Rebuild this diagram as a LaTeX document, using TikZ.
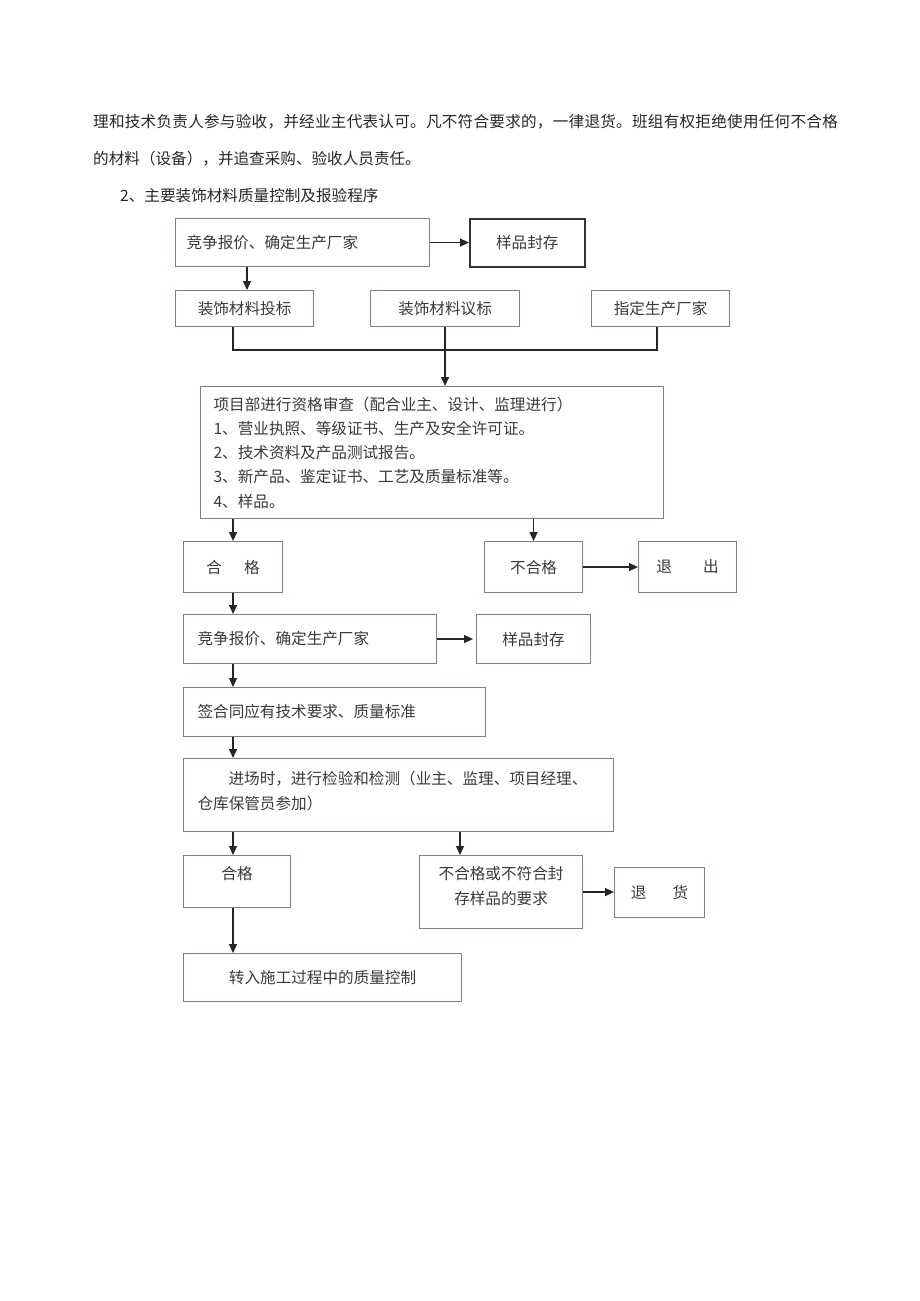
\documentclass[tikz,border=0pt]{standalone}
\usepackage{fontspec}
\newfontfamily\cjk{Noto Sans CJK SC}
\usetikzlibrary{arrows.meta,calc}
\definecolor{boxc}{HTML}{857A85}
\definecolor{txtc}{HTML}{3A3A3A}
\tikzset{
  box/.style={draw=boxc, line width=1.1pt, rectangle, inner ysep=0pt, inner xsep=0pt,
    font=\cjk\fontsize{15.6}{24.3}\selectfont, text=txtc, anchor=north west},
  lbox/.style={box, align=left},
  cbox/.style={box, align=center},
  arr/.style={-{Triangle[length=9pt,width=8pt]}, line width=1.3pt, draw=black!85},
  busline/.style={line width=1.3pt, draw=black!85},
  hdr/.style={anchor=west, inner sep=0pt, font=\cjk\fontsize{15.6}{20}\selectfont, text=black!85},
}
\begin{document}
\begin{tikzpicture}[x=1pt,y=-1pt]
\useasboundingbox[fill=white] (0,0) rectangle (920,1301);
% header text
\node[hdr] (h1) at (93,122) {\addfontfeature{LetterSpace=1.6}理和技术负责人参与验收，并经业主代表认可。凡不符合要求的，一律退货。班组有权拒绝使用任何不合格};
\node[hdr] (h2) at (93,159) {的材料（设备），并追查采购、验收人员责任。};
\node[hdr] (h3) at (120,196) {2、主要装饰材料质量控制及报验程序};
% boxes
\node[lbox, text width=232pt, inner xsep=11pt, minimum height=48pt] (b1) at (175,218) {竞争报价、确定生产厂家};
\node[cbox, draw=black!80, line width=1.6pt, minimum width=115pt, minimum height=48pt] (b2) at (469,218) {样品封存};
\node[cbox, minimum width=138pt, minimum height=36pt] (b3) at (175,290) {装饰材料投标};
\node[cbox, minimum width=149pt, minimum height=36pt] (b4) at (370,290) {装饰材料议标};
\node[cbox, minimum width=138pt, minimum height=36pt] (b5) at (591,290) {指定生产厂家};
\node[lbox, text width=437pt, inner xsep=13pt, minimum height=132pt] (b6) at (200,386) {项目部进行资格审查（配合业主、设计、监理进行）\\1、营业执照、等级证书、生产及安全许可证。\\2、技术资料及产品测试报告。\\3、新产品、鉴定证书、工艺及质量标准等。\\4、样品。};
\node[cbox, minimum width=99pt, minimum height=51pt] (p1) at (183,541) {合\hspace{22pt}格};
\node[cbox, minimum width=98pt, minimum height=51pt] (f1) at (484,541) {不合格};
\node[cbox, minimum width=98pt, minimum height=51pt] (ex) at (638,541) {退\hspace{31pt}出};
\node[lbox, text width=225pt, inner xsep=14pt, minimum height=49pt] (b7) at (183,614) {竞争报价、确定生产厂家};
\node[cbox, minimum width=114pt, minimum height=49pt] (b8) at (476,614) {样品封存};
\node[lbox, text width=274pt, inner xsep=14pt, minimum height=49pt] (b9) at (183,687) {签合同应有技术要求、质量标准};
\node[box, inner xsep=14pt, minimum height=73pt] (b10) at (183,758) {\parbox[c][73pt][t]{402pt}{\vspace*{13pt}\hspace*{31pt}进场时，进行检验和检测（业主、监理、项目经理、\\仓库保管员参加）}};
\node[box, minimum height=52pt] (p2) at (183,855) {\parbox[c][52pt][t]{107pt}{\centering\vspace*{11pt}合格}};
\node[box, minimum height=73pt] (f2) at (419,855) {\parbox[c][73pt][t]{163pt}{\centering\vspace*{11pt}不合格或不符合封\\存样品的要求}};
\node[cbox, minimum width=90pt, minimum height=50pt] (rt) at (614,867) {退\hspace{26pt}货};
\node[cbox, minimum width=278pt, minimum height=48pt] (fin) at (183,953) {转入施工过程中的质量控制};
% connectors
\draw[arr] (b1.east) -- (b1.east -| b2.west);
\draw[arr] ([xshift=72pt]b1.south west) -- ([xshift=72pt]b3.north west);
\coordinate (j) at (b4.south |- 0,350);
\draw[busline] ([xshift=58pt]b3.south west) |- (j) -| ([xshift=66pt]b5.south west);
\draw[arr] (b4.south) -- (b4.south |- b6.north);
\draw[arr] (p1.north |- b6.south) -- (p1.north);
\draw[arr] (f1.north |- b6.south) -- (f1.north);
\draw[arr] (f1.east) -- (ex.west);
\draw[arr] (p1.south) -- (p1.south |- b7.north);
\draw[arr] (b7.east) -- ([xshift=-3pt]b8.west);
\draw[arr] ([xshift=50pt]b7.south west) -- ([xshift=50pt]b9.north west);
\draw[arr] ([xshift=50pt]b9.south west) -- ([xshift=50pt]b10.north west);
\draw[arr] ([xshift=50pt]b10.south west) -- ([xshift=50pt]p2.north west);
\draw[arr] ([xshift=41pt]f2.north west |- b10.south) -- ([xshift=41pt]f2.north west);
\draw[arr] (f2.east) -- (f2.east -| rt.west);
\draw[arr] ([xshift=50pt]p2.south west) -- ([xshift=50pt]fin.north west);
\end{tikzpicture}
\end{document}
